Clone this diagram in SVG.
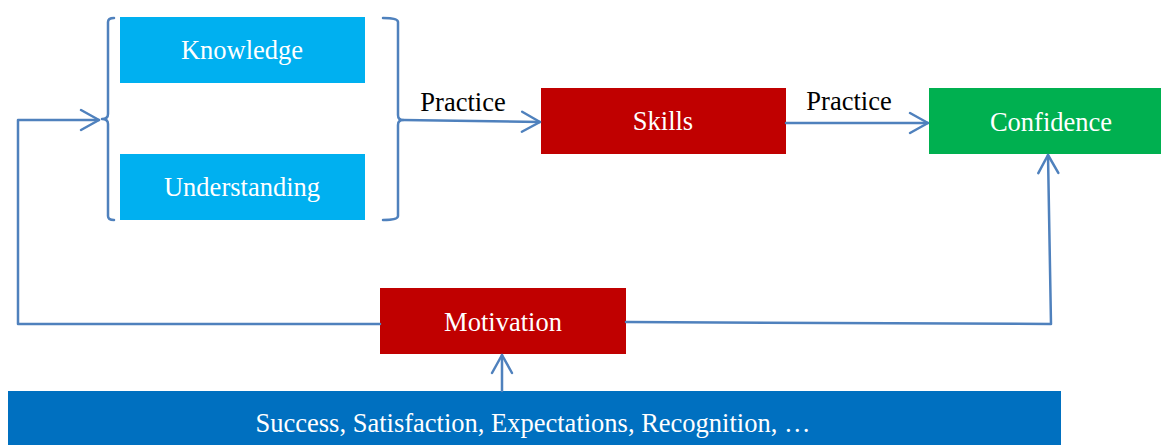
<svg xmlns="http://www.w3.org/2000/svg" width="1161" height="445" viewBox="0 0 1161 445">
<style>
.lbl{font-family:"Liberation Serif","Times New Roman",serif;font-size:26.5px;fill:#fff;text-anchor:middle}
.blk{font-family:"Liberation Serif","Times New Roman",serif;font-size:26.5px;fill:#000;text-anchor:middle}
.ln{fill:none;stroke:#4F81BD;stroke-width:2.5;stroke-linejoin:round;stroke-linecap:round}
</style>
<defs>
<marker id="arr" markerUnits="userSpaceOnUse" markerWidth="24" markerHeight="24" viewBox="-20 -12 22 24" refX="0" refY="0" orient="auto">
<path d="M-18,-10 L0,0 L-18,10" fill="none" stroke="#4F81BD" stroke-width="2.5" stroke-linecap="round" stroke-linejoin="round"/>
</marker>
</defs>
<rect width="1161" height="445" fill="#fff"/>
<g id="knowledge"><rect x="120" y="17" width="245" height="66" fill="#00B0F0"/><text class="lbl" x="242" y="59">Knowledge</text></g>
<g id="understanding"><rect x="120" y="154" width="245" height="66" fill="#00B0F0"/><text class="lbl" x="242" y="196">Understanding</text></g>
<g id="skills"><rect x="541" y="88" width="245" height="66" fill="#C00000"/><text class="lbl" x="663" y="130">Skills</text></g>
<g id="confidence"><rect x="929" y="88" width="232" height="66" fill="#00B050"/><text class="lbl" x="1051" y="131">Confidence</text></g>
<g id="motivation"><rect x="380" y="288" width="246" height="66" fill="#C00000"/><text class="lbl" x="503" y="331">Motivation</text></g>
<g id="factors"><rect x="8" y="391" width="1053" height="54" fill="#0070C0"/><text class="lbl" x="533" y="432">Success, Satisfaction, Expectations, Recognition, …</text></g>
<g id="brackets">
<path class="ln" d="M114,18 Q108,18 108,22 L108,114 Q108,119 102,119 Q108,119 108,124 L108,216 Q108,220 114,220"/>
<path class="ln" d="M383,18 Q398,18 398,22 L398,115 Q398,120 403,120 Q398,120 398,125 L398,216 Q398,220 383,220"/>
</g>
<g id="connectors">
<polyline class="ln" points="380,324 18,324 18,120 99,120" marker-end="url(#arr)"/>
<line class="ln" x1="403" y1="120" x2="540" y2="122" marker-end="url(#arr)"/>
<line class="ln" x1="786" y1="123" x2="928" y2="123" marker-end="url(#arr)"/>
<polyline class="ln" points="626,322 1051,324 1048,155" marker-end="url(#arr)"/>
<line class="ln" x1="502" y1="391" x2="502" y2="355" marker-end="url(#arr)"/>
<text class="blk" x="463" y="111">Practice</text>
<text class="blk" x="849" y="110">Practice</text>
</g>
</svg>
